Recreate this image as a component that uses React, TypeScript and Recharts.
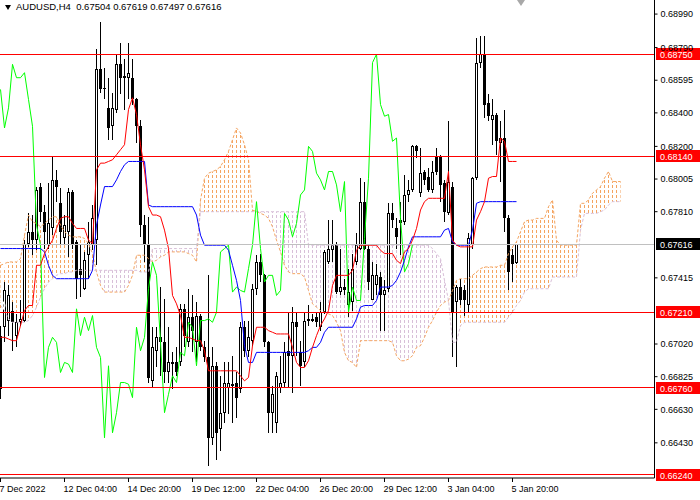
import React from "react";
import { Area, Bar, ComposedChart, Line, ReferenceLine, XAxis, YAxis } from "recharts";

const FONT = '"Liberation Sans", Arial, sans-serif';

const symbol = "AUDUSD,H4";

// H4 candles, oldest first
const opens = [
  0.6707, 0.6712, 0.6716, 0.6722, 0.6707, 0.6715, 0.6716, 0.6762, 0.6769, 0.6764,
  0.6796, 0.6781, 0.6761, 0.6771, 0.68, 0.6786, 0.6765, 0.6769, 0.6793, 0.6763,
  0.6747, 0.6735, 0.6755, 0.6761, 0.6764, 0.6866, 0.6855, 0.6843, 0.6832, 0.6842,
  0.6869, 0.6862, 0.6861, 0.6861, 0.6848, 0.6832, 0.6773, 0.6761, 0.668, 0.6698,
  0.6706, 0.6703, 0.6685, 0.6691, 0.6691, 0.6691, 0.6723, 0.6703, 0.6718, 0.6703,
  0.6719, 0.67, 0.6694, 0.6646, 0.6689, 0.6651, 0.6661, 0.6676, 0.6677, 0.6679,
  0.6675, 0.6712, 0.6698, 0.6704, 0.6735, 0.6751, 0.6743, 0.6703, 0.6661, 0.6655,
  0.6676, 0.6679, 0.6698, 0.6695, 0.6715, 0.6697, 0.6691, 0.6717, 0.6716, 0.6718,
  0.6712, 0.6721, 0.6751, 0.6758, 0.6762, 0.6733, 0.6736, 0.6725, 0.6727, 0.6751,
  0.6759, 0.6787, 0.6759, 0.6728, 0.6737, 0.6742, 0.6731, 0.6735, 0.678, 0.6771,
  0.6776, 0.6775, 0.6791, 0.6794, 0.682, 0.6792, 0.6805, 0.6802, 0.6794, 0.6814,
  0.6814, 0.6798, 0.678, 0.6796, 0.6727, 0.6736, 0.6734, 0.6725, 0.6761, 0.6801,
  0.687, 0.6875, 0.6846, 0.6836, 0.6839, 0.6822, 0.6825, 0.6777, 0.6755, 0.67504,
];
const highs = [
  0.6713, 0.6739, 0.6737, 0.6727, 0.672, 0.6728, 0.6764, 0.678, 0.6779, 0.6796,
  0.6798, 0.6785, 0.6798, 0.6814, 0.6806, 0.6795, 0.6779, 0.6795, 0.6794, 0.6764,
  0.6761, 0.6757, 0.6775, 0.6785, 0.6878, 0.6894, 0.6867, 0.6861, 0.6852, 0.6875,
  0.6882, 0.6872, 0.6882, 0.6872, 0.6849, 0.6836, 0.6779, 0.6778, 0.6712, 0.6712,
  0.6736, 0.6729, 0.6712, 0.6697, 0.67, 0.6726, 0.6726, 0.6735, 0.6731, 0.6727,
  0.672, 0.6704, 0.6743, 0.67, 0.6691, 0.6683, 0.6691, 0.6691, 0.6695, 0.6685,
  0.6715, 0.6716, 0.6716, 0.6738, 0.6755, 0.6756, 0.6744, 0.6704, 0.6677, 0.6685,
  0.6695, 0.6703, 0.6721, 0.6724, 0.6721, 0.6704, 0.6721, 0.6725, 0.672, 0.6721,
  0.6727, 0.6758, 0.6776, 0.6776, 0.6763, 0.6759, 0.6741, 0.6747, 0.6756, 0.6768,
  0.6801, 0.6799, 0.6761, 0.6751, 0.675, 0.6745, 0.674, 0.6786, 0.6786, 0.6777,
  0.6787, 0.6803, 0.68, 0.6821, 0.6821, 0.6819, 0.6806, 0.6807, 0.6811, 0.6819,
  0.6815, 0.68, 0.6835, 0.6799, 0.6737, 0.6741, 0.6737, 0.6768, 0.6802, 0.6885,
  0.6886, 0.6886, 0.6851, 0.6848, 0.684, 0.6835, 0.6842, 0.6779, 0.6759, 0.67619,
];
const lows = [
  0.6669, 0.6703, 0.6707, 0.6698, 0.67, 0.6713, 0.6715, 0.676, 0.6755, 0.6758,
  0.6775, 0.6759, 0.6759, 0.6767, 0.6787, 0.6761, 0.6761, 0.6754, 0.6759, 0.6729,
  0.673, 0.6734, 0.6741, 0.6758, 0.6749, 0.6852, 0.6848, 0.6824, 0.6824, 0.684,
  0.6851, 0.6842, 0.6848, 0.6845, 0.6822, 0.6766, 0.6751, 0.6679, 0.6676, 0.6688,
  0.6683, 0.6679, 0.6679, 0.6675, 0.6683, 0.6689, 0.67, 0.67, 0.6697, 0.6691,
  0.6698, 0.6691, 0.6629, 0.6642, 0.6633, 0.6638, 0.6655, 0.666, 0.6655, 0.6658,
  0.6673, 0.6694, 0.6694, 0.6701, 0.6731, 0.6739, 0.67, 0.6649, 0.6649, 0.6649,
  0.6673, 0.6676, 0.6676, 0.6673, 0.6695, 0.6677, 0.6688, 0.6713, 0.6715, 0.6712,
  0.671, 0.672, 0.675, 0.6751, 0.6732, 0.6731, 0.6731, 0.6718, 0.6722, 0.6749,
  0.6758, 0.6758, 0.6734, 0.6728, 0.6731, 0.671, 0.671, 0.6733, 0.6771, 0.6759,
  0.6755, 0.6773, 0.6787, 0.6793, 0.6813, 0.679, 0.6797, 0.6793, 0.6792, 0.6803,
  0.6787, 0.6775, 0.6779, 0.6694, 0.6688, 0.6725, 0.6719, 0.6721, 0.6759, 0.68,
  0.6867, 0.6837, 0.6835, 0.6821, 0.6815, 0.6799, 0.6769, 0.6734, 0.6739, 0.67497,
];
const closes = [
  0.6675, 0.6734, 0.6731, 0.6715, 0.6715, 0.6717, 0.6762, 0.6769, 0.6764, 0.6794,
  0.6781, 0.6769, 0.6774, 0.68, 0.6796, 0.6769, 0.6773, 0.6793, 0.6761, 0.6741,
  0.6743, 0.6752, 0.6763, 0.6777, 0.6866, 0.6854, 0.6854, 0.6831, 0.6843, 0.6869,
  0.6861, 0.6861, 0.6864, 0.6848, 0.6832, 0.6773, 0.6761, 0.6682, 0.67, 0.6706,
  0.6703, 0.6685, 0.6691, 0.669, 0.6685, 0.6723, 0.6707, 0.6718, 0.671, 0.6719,
  0.67, 0.6694, 0.6646, 0.6689, 0.6649, 0.6661, 0.6679, 0.6679, 0.6678, 0.667,
  0.6712, 0.6698, 0.6706, 0.6735, 0.6751, 0.6743, 0.6703, 0.6661, 0.6672, 0.6683,
  0.6679, 0.6697, 0.6695, 0.6715, 0.6712, 0.6689, 0.6716, 0.6716, 0.6717, 0.6715,
  0.6721, 0.6757, 0.6759, 0.6761, 0.6733, 0.6736, 0.6734, 0.6733, 0.6747, 0.6761,
  0.6787, 0.6759, 0.6739, 0.6743, 0.6743, 0.6731, 0.6734, 0.678, 0.6776, 0.6766,
  0.6774, 0.6791, 0.6794, 0.682, 0.6817, 0.6804, 0.68, 0.6794, 0.6805, 0.6805,
  0.6797, 0.6781, 0.6799, 0.6721, 0.6736, 0.6728, 0.6728, 0.6765, 0.6801, 0.687,
  0.6875, 0.6845, 0.6838, 0.6839, 0.6823, 0.6825, 0.6777, 0.6745, 0.675, 0.67616,
];

// Ichimoku lines
const tenkan = [
  0.6706, 0.6706, 0.6705, 0.6704, 0.6704, 0.6713, 0.6722, 0.6725, 0.6725, 0.6749,
  0.6749, 0.6756, 0.676, 0.6764, 0.6771, 0.6777, 0.6778, 0.6778, 0.6774, 0.6771,
  0.6771, 0.6771, 0.6764, 0.6762, 0.6806, 0.681, 0.681, 0.6811, 0.6812, 0.6815,
  0.6818, 0.6821, 0.6842, 0.6849, 0.6839, 0.6821, 0.6806, 0.6784, 0.6779, 0.6779,
  0.6778, 0.677, 0.6759, 0.6731, 0.6726, 0.6719, 0.6706, 0.6706, 0.6705, 0.6704,
  0.6704, 0.6698, 0.6686, 0.6686, 0.6686, 0.6686, 0.6686, 0.6686, 0.6686, 0.6686,
  0.6683, 0.668, 0.6682, 0.6701, 0.6712, 0.6712, 0.6712, 0.671, 0.6709, 0.6708,
  0.6708, 0.6708, 0.6708, 0.67, 0.6691, 0.6688, 0.6688, 0.6692, 0.67, 0.6707,
  0.6713, 0.6717, 0.6722, 0.6737, 0.6743, 0.6743, 0.6743, 0.6743, 0.6746, 0.6758,
  0.6761, 0.6761, 0.6761, 0.6761, 0.6761, 0.6758, 0.6756, 0.6756, 0.6756, 0.6752,
  0.675, 0.6757, 0.6759, 0.6764, 0.6771, 0.6782, 0.6787, 0.6789, 0.6789, 0.6789,
  0.6789, 0.6789, 0.6805, 0.6764, 0.6761, 0.676, 0.676, 0.676, 0.676, 0.6776,
  0.6781, 0.6787, 0.6801, 0.6802, 0.6802, 0.6825, 0.6823, 0.6811, 0.6811, 0.6811,
];
const kijun = [
  0.6759, 0.6759, 0.6759, 0.6759, 0.6759, 0.6759, 0.6759, 0.6759, 0.6759, 0.6759,
  0.6759, 0.6757, 0.6749, 0.6743, 0.6741, 0.6741, 0.6741, 0.6741, 0.6741, 0.6741,
  0.6741, 0.6741, 0.6741, 0.6746, 0.6773, 0.6785, 0.6796, 0.6796, 0.6796, 0.68,
  0.6805, 0.6809, 0.6811, 0.6811, 0.6811, 0.6811, 0.6811, 0.6785, 0.6784, 0.6784,
  0.6784, 0.6784, 0.6784, 0.6784, 0.6784, 0.6784, 0.6784, 0.6784, 0.6784, 0.6779,
  0.6767, 0.6761, 0.6761, 0.6761, 0.6761, 0.6761, 0.6761, 0.6758, 0.6749, 0.674,
  0.6728, 0.6701, 0.6691, 0.6691, 0.6697, 0.6697, 0.6697, 0.6697, 0.6697, 0.6697,
  0.6697, 0.6697, 0.6697, 0.6697, 0.6697, 0.6697, 0.6697, 0.6698, 0.67, 0.67,
  0.6703, 0.6709, 0.6712, 0.6712, 0.6712, 0.6712, 0.6712, 0.6712, 0.6712, 0.6717,
  0.6724, 0.6725, 0.6725, 0.6725, 0.6728, 0.6736, 0.6736, 0.6736, 0.6737, 0.674,
  0.6745, 0.6752, 0.676, 0.6766, 0.6766, 0.6766, 0.6766, 0.6766, 0.6766, 0.6766,
  0.6766, 0.677, 0.6771, 0.6763, 0.6761, 0.6761, 0.6761, 0.6761, 0.677, 0.6786,
  0.6787, 0.6787, 0.6787, 0.6787, 0.6787, 0.6787, 0.6787, 0.6787, 0.6787, 0.6787,
];
// Senkou spans already shifted 26 bars ahead
const senkouA = [
  0.6749, 0.675, 0.6751, 0.6751, 0.6751, 0.6753, 0.6767, 0.6779, 0.6775, 0.6774,
  0.6772, 0.6774, 0.6776, 0.6778, 0.6778, 0.6773, 0.6769, 0.6767, 0.6766, 0.6766,
  0.6766, 0.6765, 0.6762, 0.6756, 0.6745, 0.6737, 0.6733, 0.6733, 0.6733, 0.6733,
  0.6733, 0.6733, 0.6737, 0.6743, 0.6755, 0.6755, 0.6755, 0.6753, 0.6751, 0.6752,
  0.6754, 0.6755, 0.6757, 0.6757, 0.6757, 0.6757, 0.6757, 0.6756, 0.6755, 0.6751,
  0.6788, 0.6801, 0.6804, 0.6805, 0.6806, 0.6808, 0.6812, 0.6817, 0.6824, 0.6831,
  0.6828, 0.6821, 0.6812, 0.6782, 0.6781, 0.678, 0.6779, 0.6777, 0.6772, 0.6764,
  0.6757, 0.6749, 0.6745, 0.6744, 0.6744, 0.6744, 0.6742, 0.6734, 0.6726, 0.6724,
  0.6722, 0.6721, 0.672, 0.6719, 0.6715, 0.671, 0.6697, 0.6692, 0.6691, 0.6688,
  0.6704, 0.6704, 0.6704, 0.6704, 0.6704, 0.6704, 0.6704, 0.6704, 0.6703, 0.6695,
  0.6692, 0.6692, 0.6693, 0.6695, 0.67, 0.6701, 0.6706, 0.6712, 0.6716, 0.6721,
  0.6725, 0.6727, 0.6728, 0.6734, 0.674, 0.6741, 0.6741, 0.6741, 0.6743, 0.6745,
  0.6747, 0.6748, 0.6748, 0.6748, 0.6748, 0.6749, 0.6749, 0.6756, 0.676, 0.6763,
  0.6769, 0.6775, 0.6776, 0.6776, 0.6777, 0.6777, 0.6777, 0.6784, 0.6788, 0.6764,
  0.6761, 0.6761, 0.6761, 0.6761, 0.6761, 0.6786, 0.6786, 0.6788, 0.6792, 0.6794,
  0.6796, 0.6801, 0.6805, 0.6799, 0.6799, 0.6799,
];
const senkouB = [
  0.6725, 0.6722, 0.6717, 0.6715, 0.6715, 0.6715, 0.6715, 0.6716, 0.6719, 0.6724,
  0.673, 0.6735, 0.6739, 0.6741, 0.6743, 0.6744, 0.6744, 0.6745, 0.6745, 0.6746,
  0.6746, 0.6746, 0.6746, 0.6746, 0.6746, 0.6746, 0.6746, 0.6746, 0.6746, 0.6746,
  0.6746, 0.6746, 0.6746, 0.6746, 0.6746, 0.6745, 0.6745, 0.6745, 0.6759, 0.6759,
  0.6759, 0.6759, 0.6759, 0.6759, 0.6759, 0.6759, 0.6759, 0.6759, 0.6759, 0.6759,
  0.6781, 0.6781, 0.6781, 0.6781, 0.6781, 0.6781, 0.6781, 0.6781, 0.6781, 0.6781,
  0.6781, 0.6781, 0.6781, 0.6781, 0.6781, 0.6781, 0.6781, 0.6781, 0.6781, 0.6781,
  0.6781, 0.6781, 0.6781, 0.6781, 0.6781, 0.6781, 0.6781, 0.6761, 0.6761, 0.6761,
  0.6761, 0.6761, 0.6761, 0.6761, 0.6761, 0.6761, 0.6761, 0.6761, 0.6761, 0.6761,
  0.6761, 0.6761, 0.6761, 0.6761, 0.6761, 0.6761, 0.6761, 0.6761, 0.6761, 0.6761,
  0.6761, 0.6761, 0.6761, 0.6761, 0.6761, 0.6761, 0.6761, 0.6761, 0.6759, 0.6756,
  0.6753, 0.674, 0.6728, 0.6703, 0.6703, 0.6713, 0.6715, 0.6715, 0.6715, 0.6715,
  0.6715, 0.6715, 0.6715, 0.6715, 0.6715, 0.6715, 0.6715, 0.6718, 0.6721, 0.6725,
  0.6728, 0.6733, 0.6735, 0.6735, 0.6735, 0.6735, 0.6735, 0.6735, 0.6742, 0.6742,
  0.6742, 0.6742, 0.6742, 0.6742, 0.6742, 0.677, 0.678, 0.678, 0.678, 0.678,
  0.6781, 0.6782, 0.6785, 0.6787, 0.6787, 0.6787,
];

const dateTicks = [0, 16, 32, 48, 64, 80, 96, 112, 128];
const dateLabels = [
  "7 Dec 2022", "12 Dec 04:00", "14 Dec 20:00", "19 Dec 12:00", "22 Dec 04:00",
  "26 Dec 20:00", "29 Dec 12:00", "3 Jan 04:00", "5 Jan 20:00",
];
const priceTicks = [
  0.6899, 0.6879, 0.68595, 0.684, 0.682, 0.68005, 0.6781, 0.67415, 0.6702, 0.66825, 0.6663, 0.6643,
];
const levels = [0.6875, 0.6814, 0.6721, 0.6676, 0.6624];
const lastPrice = 0.67616;

const SLOTS = 164; // candles + 26 bars of future cloud + empty right margin
const CHIKOU_SHIFT = 26;

const isUp = (k: number) => k >= 0 && k < senkouA.length && senkouA[k] >= senkouB[k];
const isDown = (k: number) => k >= 0 && k < senkouA.length && senkouA[k] < senkouB[k];

const data = Array.from({ length: SLOTS }, (_, i) => {
  const has = i < closes.length;
  const a = i < senkouA.length ? senkouA[i] : null;
  const b = i < senkouB.length ? senkouB[i] : null;
  const band = a !== null && b !== null ? [Math.min(a, b), Math.max(a, b)] : null;
  return {
    i,
    range: has ? [lows[i], highs[i]] : null,
    open: has ? opens[i] : null,
    high: has ? highs[i] : null,
    low: has ? lows[i] : null,
    close: has ? closes[i] : null,
    tenkan: has ? tenkan[i] : null,
    kijun: has ? kijun[i] : null,
    chikou: i + CHIKOU_SHIFT < closes.length ? closes[i + CHIKOU_SHIFT] : null,
    senkouA: a,
    senkouB: b,
    cloudUp: band && (isUp(i) || isUp(i - 1)) ? band : null,
    cloudDown: band && (isDown(i) || isDown(i - 1)) ? band : null,
  };
});

function Candle(props: any) {
  const { x, y, width, height, payload } = props;
  if (!payload || payload.open == null) return null;
  const { open, high, low, close } = payload;
  const cx = Math.round(x + width / 2 - 0.5) + 0.5;
  const top = Math.min(y, y + height);
  const bottom = Math.max(y, y + height);
  const span = high - low || 1;
  const at = (v: number) => top + ((high - v) / span) * (bottom - top);
  const bodyTop = Math.round(Math.min(at(open), at(close)));
  const bodyBottom = Math.max(Math.round(Math.max(at(open), at(close))), bodyTop + 1);
  const bull = close > open;
  return (
    <g shapeRendering="crispEdges">
      <line x1={cx} x2={cx} y1={Math.round(top)} y2={Math.round(bottom)} stroke="#000" strokeWidth={1} />
      <rect x={cx - 1.5} y={bodyTop} width={3} height={bodyBottom - bodyTop} fill="#000" />
      {bull && bodyBottom - bodyTop > 2 && (
        <rect x={cx - 0.5} y={bodyTop + 1} width={1} height={bodyBottom - bodyTop - 2} fill="#fff" />
      )}
    </g>
  );
}

function DateTick(props: any) {
  const { x, y, payload } = props;
  const idx = dateTicks.indexOf(payload.value);
  return (
    <text x={x - 1} y={y} dy={8} textAnchor="start" fontSize={9} fontFamily={FONT} fill="#000">
      {dateLabels[idx]}
    </text>
  );
}

function PriceTag({ viewBox, value, bg }: { viewBox: any; value: number; bg: string }) {
  if (!viewBox) return null;
  const x = viewBox.x + viewBox.width;
  const y = viewBox.y;
  return (
    <g>
      <rect x={x + 1.5} y={Math.round(y) - 6} width={44} height={12} fill={bg} />
      <text x={x + 5.5} y={Math.round(y) + 3.5} fontSize={9} fontFamily={FONT} fill="#fff">
        {value.toFixed(5)}
      </text>
    </g>
  );
}

export default function App() {
  const last = closes.length - 1;
  const quote = [opens[last], highs[last], lows[last], closes[last]].map((v) => v.toFixed(5)).join(" ");
  return (
    <div style={{ position: "absolute", left: 0, top: 0, width: 700, height: 500, background: "#fff", overflow: "hidden" }}>
      <ComposedChart width={700} height={500} data={data} margin={{ top: 0, right: 0, bottom: 0, left: -1.5 }}>
        <defs>
          <pattern id="hatchUp" patternUnits="userSpaceOnUse" width="4" height="5" x="0" y="0">
            <rect x="0" y="0" width="1" height="3" fill="#f4a460" />
          </pattern>
          <pattern id="hatchDown" patternUnits="userSpaceOnUse" width="4" height="5" x="0" y="0">
            <rect x="0" y="0" width="1" height="3" fill="#d8bfd8" />
          </pattern>
        </defs>
        <XAxis
          dataKey="i"
          type="category"
          ticks={dateTicks}
          interval={0}
          height={22}
          tickSize={4}
          axisLine={{ stroke: "#000" }}
          tickLine={{ stroke: "#000" }}
          tick={DateTick}
        />
        <YAxis
          orientation="right"
          type="number"
          width={45.5}
          domain={[0.6622, 0.69074]}
          allowDataOverflow
          ticks={priceTicks}
          interval={0}
          tickSize={3}
          tickMargin={3}
          axisLine={{ stroke: "#000" }}
          tickLine={{ stroke: "#000" }}
          tick={{ fontSize: 9, fill: "#000", fontFamily: FONT }}
          tickFormatter={(v: number) => v.toFixed(5)}
        />
        <Bar dataKey="range" shape={Candle} isAnimationActive={false} />
        <Area type="linear" dataKey="cloudUp" stroke="none" fill="url(#hatchUp)" fillOpacity={1} isAnimationActive={false} />
        <Area type="linear" dataKey="cloudDown" stroke="none" fill="url(#hatchDown)" fillOpacity={1} isAnimationActive={false} />
        <Line type="linear" dataKey="senkouA" stroke="#f4a460" strokeWidth={1} strokeDasharray="3 2" dot={false} activeDot={false} isAnimationActive={false} />
        <Line type="linear" dataKey="senkouB" stroke="#d8bfd8" strokeWidth={1} strokeDasharray="3 2" dot={false} activeDot={false} isAnimationActive={false} />
        <Line type="linear" dataKey="chikou" stroke="#00ff00" strokeWidth={1} dot={false} activeDot={false} isAnimationActive={false} />
        <Line type="linear" dataKey="kijun" stroke="#0000ff" strokeWidth={1} dot={false} activeDot={false} isAnimationActive={false} />
        <Line type="linear" dataKey="tenkan" stroke="#ff0000" strokeWidth={1} dot={false} activeDot={false} isAnimationActive={false} />
        <ReferenceLine
          y={lastPrice}
          stroke="#c0c0c0"
          strokeWidth={1}
          shapeRendering="crispEdges"
          label={(p: any) => <PriceTag viewBox={p.viewBox} value={lastPrice} bg="#000" />}
        />
        {levels.map((v) => (
          <ReferenceLine
            key={v}
            y={v}
            stroke="#ff0000"
            strokeWidth={1}
            shapeRendering="crispEdges"
            label={(p: any) => <PriceTag viewBox={p.viewBox} value={v} bg="#ff0000" />}
          />
        ))}
      </ComposedChart>
      <div
        style={{
          position: "absolute", left: 5, top: 5, width: 0, height: 0,
          borderLeft: "3.5px solid transparent", borderRight: "3.5px solid transparent", borderTop: "5px solid #000",
        }}
      />
      <div
        style={{
          position: "absolute", left: 16, top: 1, fontFamily: FONT, fontSize: 9.5, color: "#000",
          whiteSpace: "pre", lineHeight: "12px",
        }}
      >
        {`${symbol}  ${quote}`}
      </div>
      <div
        style={{
          position: "absolute", left: 517, top: 0, width: 0, height: 0,
          borderLeft: "4.5px solid transparent", borderRight: "4.5px solid transparent", borderTop: "6px solid #a8a8a8",
        }}
      />
    </div>
  );
}
